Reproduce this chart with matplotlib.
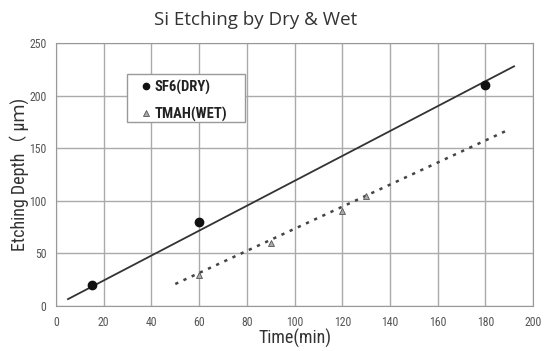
import matplotlib
matplotlib.use("Agg")
import matplotlib.pyplot as plt
from matplotlib.patches import Rectangle

# Data
dry_time = [15, 60, 180]
dry_depth = [20, 80, 210]
wet_time = [60, 90, 120, 130]
wet_depth = [30, 60, 90, 105]
# fitted trend lines (endpoints)
dry_fit_time = [5, 192]
dry_fit_depth = [6.6, 228]
wet_fit_time = [50, 190]
wet_fit_depth = [21, 168]
x_ticks = [0, 20, 40, 60, 80, 100, 120, 140, 160, 180, 200]
y_ticks = [0, 50, 100, 150, 200, 250]

COND = 'Roboto Condensed'
plt.rcParams['font.family'] = ['Open Sans', 'DejaVu Sans']
fig = plt.figure(figsize=(5.44, 3.51), dpi=100)
ax = fig.add_axes([0.103, 0.128, 0.877, 0.749])

ax.plot(dry_fit_time, dry_fit_depth, color='#333333', lw=1.3, zorder=3)
ax.plot(wet_fit_time, wet_fit_depth, color='#444444', lw=1.8, ls=(0, (1.3, 2.3)), zorder=3)
ax.plot(dry_time, dry_depth, 'o', color='#111111', ms=6.0, ls='none', label='SF6(DRY)', zorder=4)
ax.plot(wet_time, wet_depth, '^', color='#aaaaaa', mec='#555555', mew=0.6, ms=5, ls='none', label='TMAH(WET)', zorder=4)

ax.set_xlim(0, 200)
ax.set_ylim(0, 250)
ax.set_xticks(x_ticks)
ax.set_yticks(y_ticks)
ax.grid(True, color='#aaaaaa', lw=1.0)
ax.set_axisbelow(True)
for s in ax.spines.values():
    s.set_color('#999999')
ax.tick_params(length=0, labelsize=8.5, pad=7)
for lab in ax.get_xticklabels() + ax.get_yticklabels():
    lab.set_family(COND)
    lab.set_color('#555555')

ax.set_xlabel('Time(min)', fontsize=13, family=COND, color='#333333', labelpad=0)
ax.set_ylabel('Etching Depth（ μｍ)', fontsize=13, family=[COND, 'Noto Sans CJK JP'],
              color='#333333', labelpad=0)
fig.text(0.47, 0.943, 'Si Etching by Dry & Wet', ha='center', va='center', fontsize=13.5,
         family='Open Sans', color='#333333')

# legend frame
ax.add_patch(Rectangle((0.149, 0.700), 0.247, 0.182, transform=ax.transAxes,
                       facecolor='white', edgecolor='#999999', lw=1.0, zorder=5))
leg = ax.legend(loc='upper left', bbox_to_anchor=(0.155, 0.905), frameon=False,
                handlelength=0.6, handletextpad=0.3,
                borderpad=0.3, labelspacing=0.82, markerscale=0.75,
                prop={'family': COND, 'weight': 'bold', 'size': 10.5})
leg.set_zorder(6)
for t in leg.get_texts():
    t.set_color('#222222')

fig.savefig('out.png', dpi=100)
